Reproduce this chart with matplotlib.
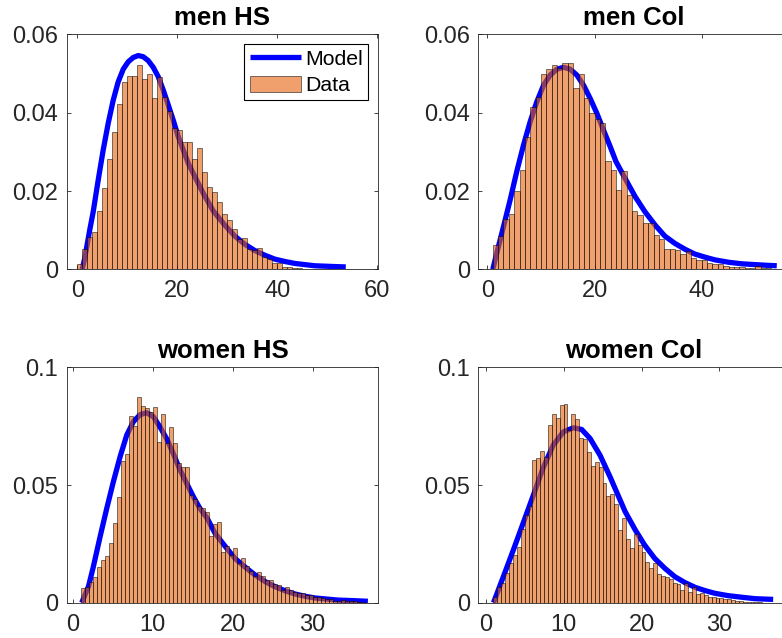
import numpy as np
import matplotlib
matplotlib.use("Agg")
import matplotlib.pyplot as plt

plt.rcParams['font.family'] = ['Liberation Sans', 'DejaVu Sans']

titles = ["men HS", "men Col", "women HS", "women Col"]

# histogram data (density), bins start at bin_start with width bin_width
men_hs_start, men_hs_width = 0.0, 1.0
men_hs_hist = [0.0013, 0.0052, 0.0083, 0.0094, 0.0150, 0.0208, 0.0283, 0.0351, 0.0423, 0.0479,
               0.0494, 0.0495, 0.0523, 0.0486, 0.0500, 0.0438, 0.0491, 0.0441, 0.0404, 0.0362,
               0.0357, 0.0326, 0.0325, 0.0283, 0.0311, 0.0249, 0.0209, 0.0197, 0.0171, 0.0141,
               0.0126, 0.0103, 0.0077, 0.0079, 0.0052, 0.0049, 0.0055, 0.0032, 0.0026, 0.0017,
               0.0015, 0.0007, 0.0005, 0.0004, 0.0003, 0.0002]

men_col_start, men_col_width = 1.0, 1.0
men_col_hist = [0.0062, 0.0086, 0.0128, 0.0141, 0.0200, 0.0254, 0.0339, 0.0415, 0.0441, 0.0499,
                0.0512, 0.0522, 0.0513, 0.0528, 0.0526, 0.0462, 0.0500, 0.0437, 0.0398, 0.0385,
                0.0373, 0.0277, 0.0254, 0.0202, 0.0252, 0.0190, 0.0149, 0.0139, 0.0117, 0.0119,
                0.0088, 0.0077, 0.0053, 0.0052, 0.0049, 0.0038, 0.0048, 0.0028, 0.0025, 0.0024,
                0.0015, 0.0014, 0.0014, 0.0009, 0.0007, 0.0005, 0.0007, 0.0003, 0.0003, 0.0008,
                0.0004, 0.0003, 0.0002]

women_hs_start, women_hs_width = 1.0, 0.5
women_hs_hist = [0.0061, 0.0068, 0.0089, 0.0110, 0.0153, 0.0181, 0.0198, 0.0252, 0.0340, 0.0450,
                 0.0603, 0.0632, 0.0793, 0.0750, 0.0875, 0.0837, 0.0826, 0.0809, 0.0833, 0.0684,
                 0.0801, 0.0680, 0.0748, 0.0677, 0.0592, 0.0575, 0.0578, 0.0457, 0.0440, 0.0411,
                 0.0401, 0.0387, 0.0283, 0.0333, 0.0344, 0.0217, 0.0241, 0.0202, 0.0231, 0.0170,
                 0.0188, 0.0156, 0.0136, 0.0113, 0.0132, 0.0113, 0.0096, 0.0096, 0.0079, 0.0074,
                 0.0054, 0.0068, 0.0054, 0.0045, 0.0042, 0.0042, 0.0033, 0.0033, 0.0023, 0.0023,
                 0.0018, 0.0016, 0.0017, 0.0009, 0.0007, 0.0011, 0.0006, 0.0008, 0.0006, 0.0003,
                 0.0002]

women_col_start, women_col_width = 1.0, 0.5
women_col_hist = [0.0023, 0.0065, 0.0085, 0.0125, 0.0167, 0.0202, 0.0238, 0.0312, 0.0372, 0.0411,
                  0.0606, 0.0613, 0.0646, 0.0617, 0.0755, 0.0800, 0.0783, 0.0840, 0.0844, 0.0733,
                  0.0800, 0.0779, 0.0700, 0.0696, 0.0641, 0.0580, 0.0599, 0.0577, 0.0508, 0.0455,
                  0.0460, 0.0420, 0.0309, 0.0358, 0.0269, 0.0231, 0.0292, 0.0245, 0.0217, 0.0174,
                  0.0146, 0.0167, 0.0122, 0.0113, 0.0110, 0.0099, 0.0085, 0.0079, 0.0054, 0.0085,
                  0.0047, 0.0065, 0.0037, 0.0040, 0.0033, 0.0026, 0.0026, 0.0019, 0.0019, 0.0016,
                  0.0016, 0.0011, 0.0009, 0.0006, 0.0004, 0.0003, 0.0002, 0.0002, 0.0001]

# model density curves
men_hs_mx = [1.0, 1.5, 2.5, 3.2, 4.2, 5.2, 6.2, 7.2, 8.2, 9.2, 10.2, 11.2, 12.2, 13.2, 14.2, 15.2,
             16.2, 17.2, 18.2, 19.2, 20.2, 21.2, 22.2, 23.2, 25.2, 27.2, 29.5, 31.5, 33.5, 35.5,
             37.5, 39.5, 41.5, 43.5, 45.5, 47.5, 49.5, 51.5, 53.7]
men_hs_my = [0.0, 0.0028, 0.0100, 0.0147, 0.0228, 0.0305, 0.0373, 0.0432, 0.0479, 0.0511, 0.0530,
             0.0541, 0.0546, 0.0543, 0.0533, 0.0516, 0.0492, 0.0458, 0.0420, 0.0381, 0.0339,
             0.0305, 0.0271, 0.0245, 0.0194, 0.0149, 0.0113, 0.0085, 0.0064, 0.0048, 0.0036,
             0.0026, 0.0020, 0.0015, 0.0012, 0.0009, 0.0008, 0.0007, 0.0006]

men_col_mx = [1.0, 2.0, 3.0, 4.24, 5.48, 6.73, 7.98, 9.22, 10.47, 11.71, 12.96, 14.21, 15.46, 16.7,
              17.95, 19.19, 20.44, 21.68, 22.93, 24.0, 25.7, 27.6, 29.4, 31.3, 33.1, 35.0, 36.9,
              38.7, 40.6, 42.5, 45.0, 47.5, 49.9, 52.4, 54.0]
men_col_my = [0.0, 0.0055, 0.0109, 0.0177, 0.0250, 0.0317, 0.0377, 0.0428, 0.0470, 0.0496, 0.0511,
              0.0516, 0.0511, 0.0496, 0.0470, 0.0436, 0.0398, 0.0355, 0.0313, 0.0275, 0.0232,
              0.0185, 0.0147, 0.0113, 0.0085, 0.0066, 0.0051, 0.0039, 0.0031, 0.0024, 0.0018,
              0.0014, 0.0012, 0.0010, 0.0009]

women_hs_mx = [1.15, 2.0, 2.6, 3.44, 4.27, 5.10, 5.94, 6.77, 7.60, 8.44, 9.27, 10.1, 10.9, 11.8,
               12.6, 13.4, 14.3, 15.1, 15.9, 16.8, 17.8, 19.1, 20.3, 21.6, 22.8, 24.1, 25.3, 26.6,
               27.8, 29.1, 30.3, 31.6, 33.2, 34.9, 36.9]
women_hs_my = [0.0, 0.0070, 0.0153, 0.0280, 0.0400, 0.0514, 0.0620, 0.0712, 0.0769, 0.0799, 0.0807,
               0.0790, 0.0748, 0.0694, 0.0632, 0.0566, 0.0504, 0.0450, 0.0401, 0.0360, 0.0295,
               0.0238, 0.0188, 0.0150, 0.0118, 0.0089, 0.0068, 0.0050, 0.0037, 0.0027, 0.0020,
               0.0016, 0.0011, 0.0009, 0.0006]

women_col_mx = [1.0, 2.26, 3.55, 4.83, 6.12, 7.40, 8.68, 9.97, 11.25, 12.32, 13.39, 14.67, 15.96,
                16.6, 17.9, 19.2, 20.4, 21.7, 23.0, 24.3, 25.6, 26.9, 28.2, 29.4, 31.1, 32.9, 34.6,
                36.9]
women_col_my = [0.0, 0.0110, 0.0224, 0.0340, 0.0457, 0.0575, 0.0670, 0.0726, 0.0743, 0.0736, 0.0698,
                0.0627, 0.0535, 0.0486, 0.0387, 0.0309, 0.0245, 0.0188, 0.0146, 0.0110, 0.0085,
                0.0065, 0.0051, 0.0040, 0.0030, 0.0023, 0.0017, 0.0014]

xticks = [[0, 20, 40, 60], [0, 20, 40], [0, 10, 20, 30], [0, 10, 20, 30]]
yticks = [[0, 0.02, 0.04, 0.06], [0, 0.02, 0.04, 0.06], [0, 0.05, 0.1], [0, 0.05, 0.1]]
yticklabels = [["0", "0.02", "0.04", "0.06"], ["0", "0.02", "0.04", "0.06"],
               ["0", "0.05", "0.1"], ["0", "0.05", "0.1"]]

panels = [
    (men_hs_start, men_hs_width, men_hs_hist, men_hs_mx, men_hs_my),
    (men_col_start, men_col_width, men_col_hist, men_col_mx, men_col_my),
    (women_hs_start, women_hs_width, women_hs_hist, women_hs_mx, women_hs_my),
    (women_col_start, women_col_width, women_col_hist, women_col_mx, women_col_my),
]

W, H = 782, 638
# axes boxes in pixels: left, top, right, bottom (right column runs past the image edge)
boxes = [(66.7, 34.4, 378.3, 269.3), (478.3, 34.4, 789.9, 269.3),
         (66.7, 367.3, 378.3, 602.7), (478.3, 367.3, 789.9, 602.7)]
xlims = [(-2.1, 60.2), (-1.7, 56.45), (-0.73, 38.2), (-0.95, 39.05)]
ylims = [(0, 0.06), (0, 0.06), (0, 0.1), (0, 0.1)]

bar_color = (0.9, 0.38, 0.04)
axis_color = (0.15, 0.15, 0.15)

fig = plt.figure(figsize=(W / 100, H / 100), dpi=100)

for i, (start, width, hist, mx, my) in enumerate(panels):
    l, t, r, b = boxes[i]
    ax = fig.add_axes([l / W, 1 - b / H, (r - l) / W, (b - t) / H])
    edges = start + width * np.arange(len(hist))
    line, = ax.plot(mx, my, color=(0, 0, 1), lw=3.8, zorder=1,
                    solid_capstyle='butt', solid_joinstyle='round')
    bars = ax.bar(edges, hist, width=width, align='edge', color=bar_color, alpha=0.6,
                  edgecolor='black', linewidth=0.6, zorder=2)
    ax.set_xlim(*xlims[i])
    ax.set_ylim(*ylims[i])
    ax.set_xticks(xticks[i])
    ax.set_yticks(yticks[i])
    ax.set_yticklabels(yticklabels[i])
    ax.tick_params(direction='in', top=True, right=True, length=3, width=0.6,
                   labelsize=17, colors=axis_color, labelcolor=axis_color)
    ax.tick_params(axis='x', pad=8)
    ax.tick_params(axis='y', pad=6)
    for s in ax.spines.values():
        s.set_color(axis_color)
        s.set_linewidth(0.6)
    ax.set_title(titles[i], fontsize=18.5, fontweight='bold', pad=6.5, color='black')
    if i == 0:
        leg = ax.legend([line, bars], ["Model", "Data"], loc='upper right', fontsize=15.3,
                        frameon=True, fancybox=False, edgecolor='black', framealpha=1,
                        handlelength=2.4, handleheight=0.8, borderpad=0.25, labelspacing=0.3,
                        handletextpad=0.22, borderaxespad=0.47)
        leg.get_frame().set_linewidth(0.8)

fig.savefig("out.png", dpi=100)
